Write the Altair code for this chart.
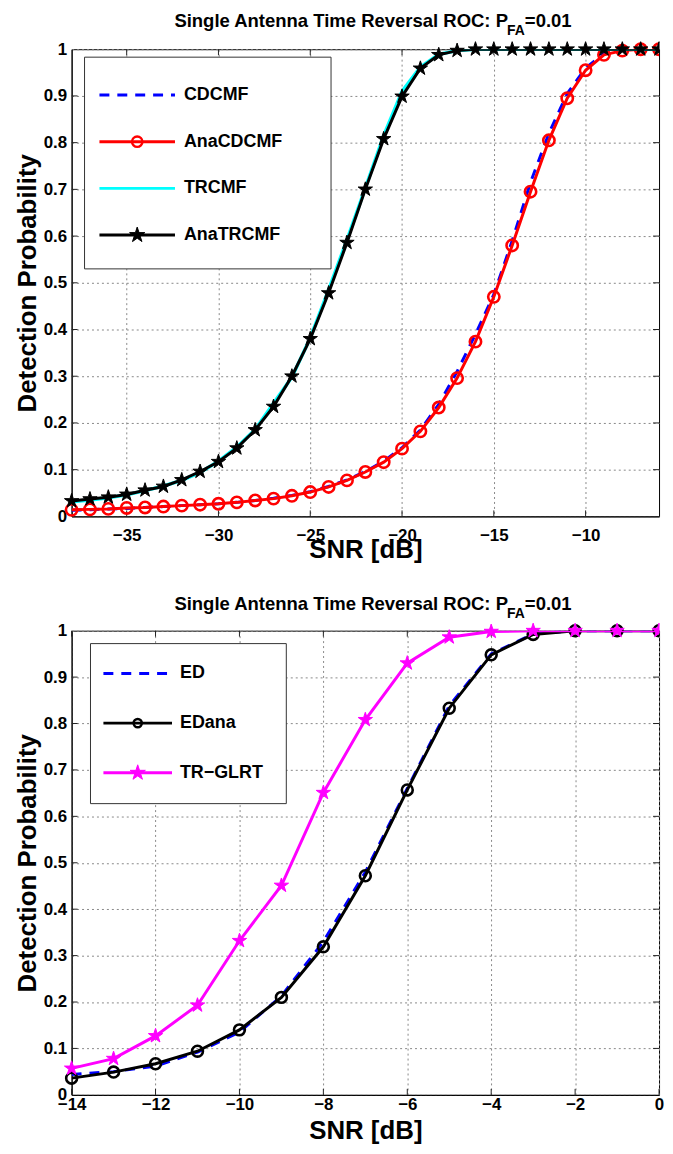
import altair as alt
import pandas as pd

FONT = "Liberation Sans, Arial, Helvetica, sans-serif"

# ---------------- top panel data ----------------
snr_top = list(range(-38, -5))
cdcmf = [0.013, 0.014, 0.016, 0.017, 0.019, 0.021, 0.023, 0.025, 0.027, 0.030,
         0.034, 0.039, 0.045, 0.053, 0.064, 0.078, 0.096, 0.118, 0.147, 0.185,
         0.240, 0.310, 0.390, 0.475, 0.590, 0.715, 0.820, 0.905, 0.960, 0.990,
         1.000, 1.000, 1.000]
ana_cdcmf = [0.014, 0.015, 0.016, 0.018, 0.019, 0.021, 0.023, 0.025, 0.027, 0.030,
             0.034, 0.038, 0.044, 0.052, 0.063, 0.077, 0.095, 0.116, 0.145, 0.182,
             0.233, 0.296, 0.374, 0.470, 0.580, 0.695, 0.805, 0.895, 0.955, 0.988,
             0.997, 1.000, 1.000]
trcmf = [0.031, 0.035, 0.040, 0.046, 0.055, 0.065, 0.077, 0.094, 0.118, 0.148,
         0.186, 0.242, 0.298, 0.382, 0.485, 0.592, 0.703, 0.815, 0.910, 0.962,
         0.989, 0.997, 1.000, 1.000, 1.000, 1.000, 1.000, 1.000, 1.000, 1.000,
         1.000, 1.000, 1.000]
ana_trcmf = [0.033, 0.037, 0.041, 0.047, 0.056, 0.064, 0.078, 0.096, 0.117, 0.146,
             0.185, 0.235, 0.300, 0.380, 0.478, 0.586, 0.700, 0.808, 0.899, 0.959,
             0.988, 0.997, 1.000, 1.000, 1.000, 1.000, 1.000, 1.000, 1.000, 1.000,
             1.000, 1.000, 1.000]
top_names = ["CDCMF", "AnaCDCMF", "TRCMF", "AnaTRCMF"]
top_xticks = [-35, -30, -25, -20, -15, -10]
top_domain = [-38, -6]

# ---------------- bottom panel data ----------------
snr_bot = list(range(-14, 1))
ed = [0.044, 0.050, 0.062, 0.092, 0.135, 0.213, 0.330, 0.480, 0.660, 0.838,
      0.950, 0.993, 1.000, 1.000, 1.000]
ed_ana = [0.036, 0.049, 0.067, 0.094, 0.140, 0.210, 0.319, 0.472, 0.657, 0.833,
          0.948, 0.992, 1.000, 1.000, 1.000]
tr_glrt = [0.057, 0.078, 0.127, 0.193, 0.332, 0.451, 0.651, 0.808, 0.930, 0.986,
           0.998, 1.000, 1.000, 1.000, 1.000]
bot_names = ["ED", "EDana", "TR\u2212GLRT"]
bot_xticks = [-14, -12, -10, -8, -6, -4, -2, 0]
bot_domain = [-14, 0]

y_ticks = [0, 0.1, 0.2, 0.3, 0.4, 0.5, 0.6, 0.7, 0.8, 0.9, 1]

STAR = ("M0,-1L0.2245,-0.309L0.951,-0.309L0.363,0.118L0.588,0.809L0,0.382"
        "L-0.588,0.809L-0.363,0.118L-0.951,-0.309L-0.2245,-0.309Z")
# left halves, used for markers sitting on the right border (cut like the original)
HALF = {
    "star": "M0,-1L-0.2245,-0.309L-0.951,-0.309L-0.363,0.118L-0.588,0.809L0,0.382Z",
    "circle": "M0,-1C-0.552,-1,-1,-0.552,-1,0C-1,0.552,-0.552,1,0,1",
}
SHAPES = {"star": STAR, "circle": "circle"}

one = pd.DataFrame({"k": [0]})
TICK_LEN = 6


def encodings(domain, xticks, label_pad, title_pad):
    x = alt.X("snr:Q",
              scale=alt.Scale(domain=domain, nice=False, zero=False),
              axis=alt.Axis(values=xticks, title="SNR [dB]", format="d",
                            grid=True, gridDash=[2, 3], gridColor="#888",
                            ticks=False, labelPadding=label_pad, labelFlush=False,
                            labelFontSize=17, labelFontWeight="bold", labelFont=FONT,
                            labelColor="black",
                            titleFontSize=26, titleFontWeight="bold", titleFont=FONT,
                            titlePadding=title_pad, titleColor="black",
                            domainColor="black"))
    y = alt.Y("p:Q",
              scale=alt.Scale(domain=[0, 1], nice=False, zero=False),
              axis=alt.Axis(values=y_ticks, title="Detection Probability", format="~g",
                            grid=True, gridDash=[2, 3], gridColor="#888",
                            ticks=False, labelPadding=5,
                            labelFontSize=17, labelFontWeight="bold", labelFont=FONT,
                            labelColor="black",
                            titleFontSize=26, titleFontWeight="bold", titleFont=FONT,
                            titlePadding=3, titleColor="black",
                            domainColor="black"))
    return x, y


def inner_ticks(xticks, x, y, w, h):
    """Matlab-style ticks pointing into the plot on all four borders."""
    xdf = pd.DataFrame({"snr": xticks})
    ydf = pd.DataFrame({"p": y_ticks[1:-1]})
    kw = dict(color="#222", strokeWidth=1)
    return [
        alt.Chart(xdf).mark_rule(**kw).encode(
            x=x, y=alt.value(h), y2=alt.value(h - TICK_LEN)),
        alt.Chart(xdf).mark_rule(**kw).encode(
            x=x, y=alt.value(0), y2=alt.value(TICK_LEN)),
        alt.Chart(ydf).mark_rule(**kw).encode(
            y=y, x=alt.value(0), x2=alt.value(TICK_LEN)),
        alt.Chart(ydf).mark_rule(**kw).encode(
            y=y, x=alt.value(w), x2=alt.value(w - TICK_LEN)),
    ]


def series(snr, vals, x, y, xmax, color, dash=None, shape=None, filled=False,
           size=130, width=3):
    df = pd.DataFrame({"snr": snr, "p": vals})
    line_kw = dict(color=color, strokeWidth=width, clip=True)
    if dash:
        line_kw["strokeDash"] = dash
    layers = [alt.Chart(df).mark_line(**line_kw).encode(x=x, y=y)]
    if shape:
        pt_kw = dict(size=size, opacity=1, strokeWidth=2.6)
        if filled:
            pt_kw.update(filled=True, fill=color, stroke=color, strokeWidth=1)
        else:
            pt_kw.update(filled=False, stroke=color)
        layers.append(alt.Chart(df).mark_point(shape=SHAPES[shape], **pt_kw)
                      .encode(x=x, y=y).transform_filter(alt.datum.snr < xmax))
        layers.append(alt.Chart(df).mark_point(shape=HALF[shape], **pt_kw)
                      .encode(x=x, y=y).transform_filter(alt.datum.snr >= xmax))
    return layers


def title_layers(xp, base_y):
    common = dict(fontWeight="bold", font=FONT, color="black", baseline="alphabetic")
    return [
        alt.Chart(one).mark_text(align="right", fontSize=18.6, **common).encode(
            x=alt.value(xp), y=alt.value(base_y),
            text=alt.value("Single Antenna Time Reversal ROC: P")),
        alt.Chart(one).mark_text(align="left", fontSize=14, **common).encode(
            x=alt.value(xp - 1), y=alt.value(base_y + 8), text=alt.value("FA")),
        alt.Chart(one).mark_text(align="left", fontSize=18.6, **common).encode(
            x=alt.value(xp + 17), y=alt.value(base_y), text=alt.value("=0.01")),
    ]


def legend_layers(box, rows, lx0, lx1, tx, entries):
    layers = [alt.Chart(one).mark_rect(fill="white", stroke="#333", strokeWidth=1).encode(
        x=alt.value(box[0]), x2=alt.value(box[1]), y=alt.value(box[2]), y2=alt.value(box[3]))]
    for ry, (name, color, dash, shape, filled, size) in zip(rows, entries):
        kw = dict(color=color, strokeWidth=3)
        if dash:
            kw["strokeDash"] = dash
        layers.append(alt.Chart(one).mark_rule(**kw).encode(
            x=alt.value(lx0), x2=alt.value(lx1), y=alt.value(ry)))
        if shape:
            pt_kw = dict(shape=SHAPES[shape], size=size, opacity=1)
            if filled:
                pt_kw.update(filled=True, fill=color, stroke=color, strokeWidth=1)
            else:
                pt_kw.update(filled=False, stroke=color, strokeWidth=2.4)
            layers.append(alt.Chart(one).mark_point(**pt_kw).encode(
                x=alt.value((lx0 + lx1) / 2), y=alt.value(ry)))
        layers.append(alt.Chart(one).mark_text(
            align="left", baseline="middle", fontSize=18, fontWeight="bold",
            font=FONT, color="black").encode(
            x=alt.value(tx), y=alt.value(ry), text=alt.value(name)))
    return layers


W = 591
H_TOP, H_BOT = 470, 467

# ---------------- top chart ----------------
xt, yt = encodings(top_domain, top_xticks, 11, -7)
top_layers = inner_ticks(top_xticks, xt, yt, W, H_TOP)
top_layers += series(snr_top, cdcmf, xt, yt, top_domain[1], "#0000ff", dash=[10, 8])
top_layers += series(snr_top, ana_cdcmf, xt, yt, top_domain[1], "#ff0000",
                     shape="circle", size=130)
top_layers += series(snr_top, trcmf, xt, yt, top_domain[1], "#00ffff", width=3.5)
top_layers += series(snr_top, ana_trcmf, xt, yt, top_domain[1], "#000000",
                     shape="star", filled=True, size=230)
top_layers += legend_layers(
    (13, 261, 8, 221), [46, 93, 140, 187], 28, 104, 113,
    [(top_names[0], "#0000ff", [10, 8], None, False, 0),
     (top_names[1], "#ff0000", None, "circle", False, 110),
     (top_names[2], "#00ffff", None, None, False, 0),
     (top_names[3], "#000000", None, "star", True, 260)])
top_layers += title_layers(439, -22)
top = alt.layer(*top_layers).properties(width=W, height=H_TOP)

# ---------------- bottom chart ----------------
xb, yb = encodings(bot_domain, bot_xticks, 2, 5)
bot_layers = inner_ticks(bot_xticks, xb, yb, W, H_BOT)
bot_layers += series(snr_bot, ed, xb, yb, bot_domain[1], "#0000ff", dash=[10, 8])
bot_layers += series(snr_bot, ed_ana, xb, yb, bot_domain[1], "#000000",
                     shape="circle", size=120)
bot_layers += series(snr_bot, tr_glrt, xb, yb, bot_domain[1], "#ff00ff",
                     shape="star", filled=True, size=230)
bot_layers += legend_layers(
    (19, 216, 13, 174), [43, 93, 143], 32, 101, 109,
    [(bot_names[0], "#0000ff", [10, 8], None, False, 0),
     (bot_names[1], "#000000", None, "circle", False, 70),
     (bot_names[2], "#ff00ff", None, "star", True, 260)])
bot_layers += title_layers(439, -21)
bottom = alt.layer(*bot_layers).properties(width=W, height=H_BOT)

chart = alt.vconcat(top, bottom, spacing=31).properties(
    padding={"left": 5, "top": 0, "right": 0, "bottom": 0}).configure_view(
    stroke="black", strokeWidth=1)

chart.save("out.html", embed_options={"renderer": "svg", "actions": False})
